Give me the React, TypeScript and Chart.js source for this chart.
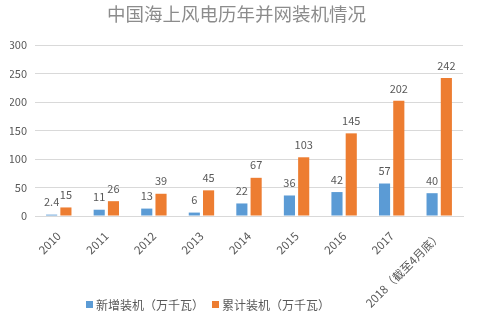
import React, { useEffect, useRef } from "react";
import { Chart, registerables } from "chart.js";

Chart.register(...registerables);

const categories = ["2010", "2011", "2012", "2013", "2014", "2015", "2016", "2017", "2018（截至4月底）"];
const newInstalled = [2.4, 11, 13, 6, 22, 36, 42, 57, 40];
const cumulative = [15, 26, 39, 45, 67, 103, 145, 202, 242];
const yTicks = [0, 50, 100, 150, 200, 250, 300];

const FONT = "'Noto Sans CJK SC', 'Noto Sans', sans-serif";

const labelPlugin = {
  id: "barLabels",
  afterDatasetsDraw(chart: any) {
    const ctx = chart.ctx;
    ctx.save();
    ctx.font = `11px ${FONT}`;
    ctx.fillStyle = "#595959";
    ctx.textAlign = "center";
    ctx.textBaseline = "bottom";
    chart.data.datasets.forEach((ds: any, i: number) => {
      const meta = chart.getDatasetMeta(i);
      meta.data.forEach((bar: any, j: number) => {
        ctx.fillText(String(ds.data[j]), bar.x, bar.y - 7);
      });
    });
    ctx.restore();
  },
};

const legendPlugin = {
  id: "customLegend",
  afterDraw(chart: any) {
    const ctx = chart.ctx;
    ctx.save();
    ctx.font = `12px ${FONT}`;
    ctx.textBaseline = "middle";
    ctx.textAlign = "left";
    let x = 86;
    const y = 305;
    chart.data.datasets.forEach((ds: any) => {
      ctx.fillStyle = ds.backgroundColor;
      ctx.fillRect(x, y - 4, 7, 7);
      x += 10;
      ctx.fillStyle = "#595959";
      ctx.fillText(ds.label, x, y);
      x += ctx.measureText(ds.label).width + 8;
    });
    ctx.restore();
  },
};

export default function App() {
  const ref = useRef<HTMLCanvasElement>(null);
  useEffect(() => {
    const chart = new Chart(ref.current!, {
      type: "bar",
      data: {
        labels: categories,
        datasets: [
          { label: "新增装机（万千瓦）", data: newInstalled, backgroundColor: "#5B9BD5", categoryPercentage: 0.6, barPercentage: 0.78 },
          { label: "累计装机（万千瓦）", data: cumulative, backgroundColor: "#ED7D31", categoryPercentage: 0.6, barPercentage: 0.78 },
        ],
      },
      options: {
        animation: false,
        responsive: false,
        layout: { padding: { left: 10, right: 15, top: 3, bottom: 0 } },
        plugins: {
          title: {
            display: true,
            text: "中国海上风电历年并网装机情况",
            color: "#8c8c8c",
            font: { family: FONT, size: 18.5, weight: "normal" },
            padding: { top: 0, bottom: 19.8 },
          },
          legend: { display: false },
          tooltip: { enabled: false },
        },
        scales: {
          x: {
            grid: { display: false },
            border: { display: true, color: "#d9d9d9" },
            afterFit: (axis: any) => {
              axis.height = 105;
            },
            ticks: {
              color: "#595959",
              font: { family: FONT, size: 11.5 },
              minRotation: 45,
              maxRotation: 45,
              autoSkip: false,
              padding: 5,
            },
          },
          y: {
            min: 0,
            max: 300,
            afterBuildTicks: (axis: any) => {
              axis.ticks = yTicks.map((v) => ({ value: v }));
            },
            afterFit: (axis: any) => {
              axis.width = 25;
            },
            grid: { color: "#d9d9d9", drawTicks: false },
            border: { display: false },
            ticks: { color: "#595959", font: { family: FONT, size: 11 }, padding: 8 },
          },
        },
      },
      plugins: [labelPlugin, legendPlugin],
    });
    return () => chart.destroy();
  }, []);
  return (
    <div style={{ position: "fixed", left: 0, top: 0, width: 478, height: 321, background: "#fff" }}>
      <canvas ref={ref} width={478} height={321} />
    </div>
  );
}
